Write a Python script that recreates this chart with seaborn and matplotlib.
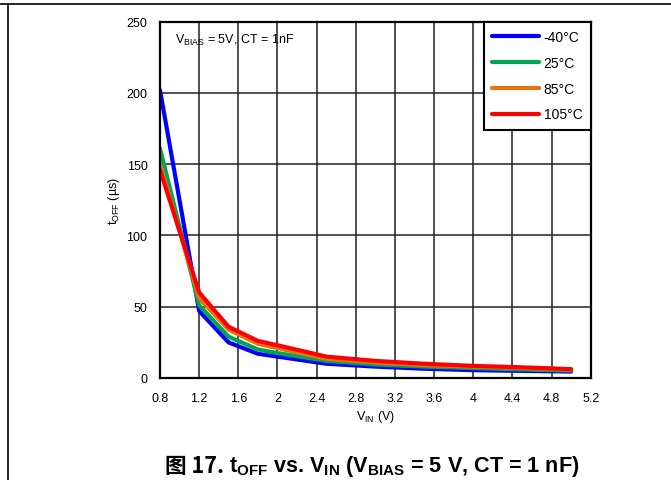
import numpy as np
import pandas as pd
import matplotlib
matplotlib.use("Agg")
import matplotlib.pyplot as plt
import seaborn as sns
from matplotlib.lines import Line2D

# datos (tOFF en us vs VIN en V)
vin = [0.8, 1.2, 1.5, 1.8, 2.0, 2.5, 3.0, 3.5, 4.0, 4.5, 5.0]
toff_m40 = [202, 47, 25, 17, 15, 10, 8, 6.5, 5.5, 5, 4.5]
toff_25 = [161, 51, 29, 20, 17.5, 12, 9.5, 8, 7, 6, 5.2]
toff_85 = [150, 56, 34, 24, 21, 13.5, 11, 9, 8, 7, 6]
toff_105 = [146, 60, 36, 26, 23, 15, 12, 10, 8.5, 7.5, 6.2]

temps = ["-40°C", "25°C", "85°C", "105°C"]
colores = ["#0000FF", "#00A651", "#E8720C", "#FF0000"]

xticks = [0.8, 1.2, 1.6, 2.0, 2.4, 2.8, 3.2, 3.6, 4.0, 4.4, 4.8, 5.2]
xtick_labels = ["0.8", "1.2", "1.6", "2", "2.4", "2.8", "3.2", "3.6", "4", "4.4", "4.8", "5.2"]
yticks = [0, 50, 100, 150, 200, 250]

sns.set_theme(style="white")
plt.rcParams["font.family"] = ["Liberation Sans", "DejaVu Sans"]
plt.rcParams["text.color"] = "black"
plt.rcParams["axes.labelcolor"] = "black"
plt.rcParams["mathtext.fontset"] = "custom"
plt.rcParams["mathtext.rm"] = "Liberation Sans"
plt.rcParams["mathtext.bf"] = "Liberation Sans:bold"
plt.rcParams["mathtext.it"] = "Liberation Sans:italic"

series = [toff_m40, toff_25, toff_85, toff_105]
datos = pd.DataFrame({
    "VIN": vin * len(temps),
    "tOFF": sum(series, []),
    "Temp": [t for t in temps for _ in vin],
})

fig = plt.figure(figsize=(6.71, 4.81), dpi=100)
ax = fig.add_axes([160 / 671, 102 / 481, 430.7 / 671, 356.3 / 481])

sns.lineplot(data=datos, x="VIN", y="tOFF", hue="Temp", hue_order=temps,
             palette=colores, linewidth=3, errorbar=None, ax=ax)

ax.set_xlim(0.8, 5.2)
ax.set_ylim(0, 250)
ax.set_xticks(xticks)
ax.set_xticklabels(xtick_labels)
ax.set_yticks(yticks)
ax.tick_params(axis="both", length=0, labelsize=9, colors="black")
ax.tick_params(axis="x", pad=10)
ax.tick_params(axis="y", pad=9)
ax.set_axisbelow(True)
ax.grid(True, color="#222222", linewidth=1.1)
for s in ax.spines.values():
    s.set_color("black")
    s.set_linewidth(1.6)

ax.set_xlabel(r"V$_{\mathrm{IN}}$ (V)", fontsize=9, labelpad=3)
ax.set_ylabel(r"t$_{\mathrm{OFF}}$ (µs)", fontsize=9, labelpad=3)

ax.text(0.035, 0.972, r"V$_{\mathrm{BIAS}}$ = 5V, CT = 1nF", transform=ax.transAxes,
        fontsize=9, va="top", ha="left")

h, l = ax.get_legend_handles_labels()
leg = ax.legend(h, l, loc="upper right", borderaxespad=0, frameon=True, fancybox=False,
                edgecolor="black", framealpha=1, fontsize=10, handlelength=3.4,
                labelspacing=0.85, borderpad=0.6, handletextpad=0.3)
leg.get_frame().set_linewidth(1.5)
for ln in leg.get_lines():
    ln.set_linewidth(3)

# pie de figura
t1 = fig.text(165 / 671, 1 - 467 / 481, "图 17. ", fontsize=15.6, fontweight="bold",
              family=["Noto Sans CJK SC", "DejaVu Sans"], va="center", ha="left")
fig.canvas.draw()
ax.annotate(r"t$_{\mathbf{OFF}}$ vs. V$_{\mathbf{IN}}$ (V$_{\mathbf{BIAS}}$ = 5 V, CT = 1 nF)",
            xy=(1, 0.5), xycoords=t1, va="center", ha="left", fontsize=15.6,
            fontweight="bold", annotation_clip=False)

# marco de pagina
fig.add_artist(Line2D([0, 1], [1 - 5 / 481, 1 - 5 / 481], color="black", linewidth=1.2,
                      transform=fig.transFigure))
fig.add_artist(Line2D([8 / 671, 8 / 671], [0, 1 - 5 / 481], color="black", linewidth=1.2,
                      transform=fig.transFigure))

fig.savefig("out.png", dpi=100)
